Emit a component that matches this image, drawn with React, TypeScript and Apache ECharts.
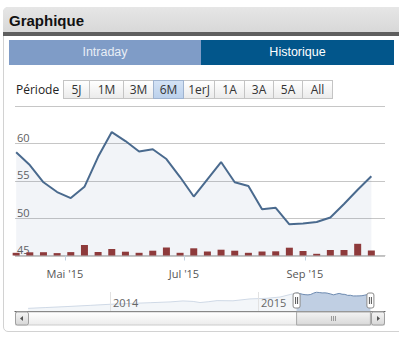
import React, { useEffect, useRef } from "react";
import * as echarts from "echarts";

// ---- Data ----
const weekDates = [
  "2015-04-06", "2015-04-13", "2015-04-20", "2015-04-27", "2015-05-04", "2015-05-11",
  "2015-05-18", "2015-05-25", "2015-06-01", "2015-06-08", "2015-06-15", "2015-06-22",
  "2015-06-29", "2015-07-06", "2015-07-13", "2015-07-20", "2015-07-27", "2015-08-03",
  "2015-08-10", "2015-08-17", "2015-08-24", "2015-08-31", "2015-09-07", "2015-09-14",
  "2015-09-21", "2015-09-28", "2015-10-05",
];
const closePrices = [
  58.8, 57.1, 54.8, 53.5, 52.7, 54.2, 58.2, 61.5, 60.3, 58.9, 59.2, 57.9, 55.5, 52.9,
  55.2, 57.5, 54.8, 54.3, 51.2, 51.4, 49.2, 49.3, 49.5, 50.1, 51.9, 53.8, 55.6,
];
const volumes = [
  27, 32, 33, 24, 34, 105, 35, 65, 38, 27, 48, 80, 27, 72, 40, 58, 48, 27, 40, 42, 78, 45,
  17, 55, 55, 117, 50,
];
// navigator history before the selected window
const navDates = [
  "2013-06-13", "2013-07-25", "2013-09-17", "2013-11-13", "2014-01-01", "2014-02-19",
  "2014-04-10", "2014-05-29", "2014-06-30", "2014-07-25", "2014-08-11", "2014-08-31",
  "2014-09-22", "2014-10-31", "2014-12-12", "2015-01-23", "2015-02-24", "2015-03-21",
];
const navValues = [
  10, 12.5, 15.7, 19.5, 23, 25.5, 28, 30.5, 33.6, 32, 28.5, 31, 34.6, 34, 40, 42, 46, 54,
];
const xTickDates = ["2015-05-01", "2015-07-01", "2015-09-01"];
const xTickLabels = ["Mai '15", "Jul '15", "Sep '15"];
const navTickDates = ["2014-01-01", "2015-01-01"];
const navTickLabels = ["2014", "2015"];
const priceTicks = [45, 50, 55, 60, 65];
const periods = ["5J", "1M", "3M", "6M", "1erJ", "1A", "3A", "5A", "All"];
const selectedPeriod = "6M";

const ts = (s: string) => new Date(s + "T00:00:00Z").getTime();
const DAY = 86400000;

const mainMin = ts("2015-04-05") + 10 * 3600000;
const mainMax = ts("2015-10-12");
const navMin = ts("2013-05-11") + 17 * 3600000;
const navMax = ts("2015-11-10");

const FONT = "'Open Sans', 'DejaVu Sans', sans-serif";

const btnPos: [number, number][] = [
  [63, 27], [89, 35], [123, 31], [153, 31], [183, 32], [214, 31], [244, 30], [273, 30], [302, 31],
];

export default function App() {
  const ref = useRef<HTMLDivElement>(null);

  useEffect(() => {
    document.body.style.margin = "0";
    if (!ref.current) return;
    const chart = echarts.init(ref.current, null, { renderer: "svg" });

    const priceData = weekDates.map((d, i) => [ts(d), closePrices[i]]);
    const volData = weekDates.map((d, i) => [ts(d), volumes[i]]);
    const navAll = navDates.map((d, i) => [ts(d), navValues[i]]).concat(priceData);
    const xTicks = xTickDates.map(ts);
    const navTicks = navTickDates.map(ts);

    chart.setOption({
      animation: false,
      grid: [
        { left: 15, right: 14, top: 105.8, bottom: 343 - 255.8 },
        { left: 15, right: 14, top: 215, bottom: 79 },
        { left: 15, right: 14, top: 292, bottom: 31.5 },
      ],
      xAxis: [
        { type: "value", gridIndex: 0, min: mainMin, max: mainMax, show: false, splitLine: { show: false } },
        {
          type: "value",
          gridIndex: 1,
          min: mainMin,
          max: mainMax,
          axisLine: { show: true, lineStyle: { color: "#c0c0c0", width: 1 } },
          axisTick: { show: true, customValues: xTicks, length: 5, lineStyle: { color: "#c0d0e0" } },
          axisLabel: {
            customValues: xTicks,
            margin: 4,
            color: "#555",
            fontSize: 11,
            fontFamily: FONT,
            formatter: (v: number) => {
              const i = xTicks.findIndex((t) => Math.abs(t - v) < DAY);
              return i >= 0 ? xTickLabels[i] : "";
            },
          },
          splitLine: { show: false },
        },
        {
          type: "value",
          gridIndex: 2,
          position: "top",
          z: 10,
          min: navMin,
          max: navMax,
          axisLine: { show: true, lineStyle: { color: "#444", width: 1 } },
          axisTick: { show: false, customValues: navTicks },
          axisLabel: {
            customValues: navTicks,
            inside: true,
            align: "left",
            margin: 5,
            padding: [0, 0, 0, 3],
            color: "#666",
            fontSize: 11,
            fontFamily: FONT,
            formatter: (v: number) => {
              const i = navTicks.findIndex((t) => Math.abs(t - v) < DAY);
              return i >= 0 ? navTickLabels[i] : "";
            },
          },
          splitLine: { show: true, lineStyle: { color: "#e2e2e2" } },
        },
      ],
      yAxis: [
        {
          type: "value",
          gridIndex: 0,
          min: priceTicks[0],
          max: priceTicks[priceTicks.length - 1],
          interval: 5,
          axisLine: { show: false },
          axisTick: { show: false },
          axisLabel: {
            inside: true,
            showMaxLabel: false,
            verticalAlign: "bottom",
            lineHeight: 12,
            margin: 2,
            color: "#606060",
            fontSize: 11,
            fontFamily: FONT,
          },
          splitLine: { show: true, lineStyle: { color: "#c6c6c6" } },
        },
        { type: "value", gridIndex: 1, min: -85, max: 405, show: false, splitLine: { show: false } },
        { type: "value", gridIndex: 2, min: 0, max: 62, show: false, splitLine: { show: false } },
      ],
      series: [
        {
          type: "line",
          name: "Cours",
          xAxisIndex: 0,
          yAxisIndex: 0,
          data: priceData,
          symbol: "none",
          lineStyle: { color: "#4a6a8e", width: 2 },
          areaStyle: { color: "rgba(64,100,160,0.1)", origin: "start" },
          z: 3,
        },
        {
          type: "bar",
          name: "Volume",
          xAxisIndex: 1,
          yAxisIndex: 1,
          data: volData,
          barWidth: 7,
          itemStyle: { color: "#8e3a3b" },
          z: 4,
        },
        {
          type: "line",
          xAxisIndex: 2,
          yAxisIndex: 2,
          data: navAll,
          symbol: "none",
          lineStyle: { color: "#cfd9e6", width: 1 },
          areaStyle: { color: "#eef2f7", origin: "start" },
        },
        {
          type: "line",
          xAxisIndex: 2,
          yAxisIndex: 2,
          data: priceData,
          symbol: "none",
          lineStyle: { color: "#6f8cb2", width: 1 },
          areaStyle: { color: "#aabfda", origin: "start" },
        },
      ],
    });

    const hx1 = chart.convertToPixel({ xAxisIndex: 2 }, ts(weekDates[0])) as number;
    const hx2 = chart.convertToPixel({ xAxisIndex: 2 }, ts(weekDates[weekDates.length - 1])) as number;
    const grad = (a: string, b: string) =>
      new echarts.graphic.LinearGradient(0, 0, 0, 1, [
        { offset: 0, color: a },
        { offset: 1, color: b },
      ]);
    const handle = (x: number) => [
      { type: "rect", z: 100, shape: { x: x - 3.5, y: 293, width: 7, height: 15, r: 2 }, style: { fill: "#fff", stroke: "#8a8a8a", lineWidth: 1 } },
      { type: "line", z: 101, shape: { x1: x - 1, y1: 297, x2: x - 1, y2: 304 }, style: { stroke: "#555", lineWidth: 1 } },
      { type: "line", z: 101, shape: { x1: x + 1, y1: 297, x2: x + 1, y2: 304 }, style: { stroke: "#555", lineWidth: 1 } },
    ];
    const cx = (hx1 + hx2) / 2;
    chart.setOption({
      graphic: [
        { type: "rect", z: 90, shape: { x: 15.5, y: 312, width: 369, height: 13 }, style: { fill: grad("#ffffff", "#ececec"), stroke: "#cccccc", lineWidth: 1 } },
        { type: "rect", z: 91, shape: { x: hx1, y: 312, width: hx2 - hx1, height: 13 }, style: { fill: grad("#f4f4f4", "#d8d8d8"), stroke: "#a8a8a8", lineWidth: 1 } },
        { type: "line", z: 92, shape: { x1: cx - 2, y1: 316, x2: cx - 2, y2: 321 }, style: { stroke: "#999", lineWidth: 1 } },
        { type: "line", z: 92, shape: { x1: cx, y1: 316, x2: cx, y2: 321 }, style: { stroke: "#999", lineWidth: 1 } },
        { type: "line", z: 92, shape: { x1: cx + 2, y1: 316, x2: cx + 2, y2: 321 }, style: { stroke: "#999", lineWidth: 1 } },
        { type: "rect", z: 93, shape: { x: 15.5, y: 312, width: 13, height: 13, r: 2 }, style: { fill: grad("#f6f6f6", "#d6d6d6"), stroke: "#a0a0a0", lineWidth: 1 } },
        { type: "polygon", z: 94, shape: { points: [[20, 318.5], [23, 316], [23, 321]] }, style: { fill: "#555" } },
        { type: "rect", z: 93, shape: { x: 371.5, y: 312, width: 13, height: 13, r: 2 }, style: { fill: grad("#f6f6f6", "#d6d6d6"), stroke: "#a0a0a0", lineWidth: 1 } },
        { type: "polygon", z: 94, shape: { points: [[380, 318.5], [377, 316], [377, 321]] }, style: { fill: "#555" } },
        ...handle(hx1),
        ...handle(hx2),
      ],
    });

    return () => chart.dispose();
  }, []);

  return (
    <div style={{ position: "relative", width: 399, height: 343, overflow: "hidden", background: "#fff", fontFamily: FONT }}>
      <div style={{ position: "absolute", left: 3, top: 7, width: 420, height: 325, border: "1px solid #d2d2d2", borderRadius: 5, boxSizing: "border-box" }} />
      <div
        style={{
          position: "absolute", left: 3, top: 7, width: 420, height: 25,
          background: "linear-gradient(#e6e6e6, #d8d8d8)", borderTopLeftRadius: 5,
          borderBottom: "4px solid #5e5e5e",
          fontFamily: "'Liberation Sans', Arial, sans-serif", fontWeight: "bold", fontSize: 15,
          lineHeight: "27px", paddingLeft: 6, color: "#111", boxSizing: "content-box",
        }}
      >
        Graphique
      </div>
      <div style={{ position: "absolute", left: 9, top: 40, width: 192, height: 25, background: "#7f9cc7", color: "#e8eef6", fontFamily: "'Liberation Sans', Arial, sans-serif", fontSize: 12.5, lineHeight: "25px", textAlign: "center" }}>
        Intraday
      </div>
      <div style={{ position: "absolute", left: 201, top: 40, width: 193, height: 25, background: "#02568b", color: "#ffffff", fontFamily: "'Liberation Sans', Arial, sans-serif", fontSize: 12.5, lineHeight: "25px", textAlign: "center" }}>
        Historique
      </div>
      <div style={{ position: "absolute", left: 16, top: 80, height: 19, lineHeight: "19px", fontSize: 12, color: "#222" }}>Période</div>
      {periods.map((p, i) => {
        const sel = p === selectedPeriod;
        return (
          <div
            key={p}
            style={{
              position: "absolute", left: btnPos[i][0], top: 80, width: btnPos[i][1], height: 19,
              boxSizing: "border-box", border: sel ? "1px solid #9fb3cf" : "1px solid #c4c4c4",
              background: sel ? "linear-gradient(#d3e2f5, #bcd1ec)" : "linear-gradient(#ffffff, #ebebeb)",
              fontSize: 12, lineHeight: "17px", textAlign: "center", color: "#333",
              zIndex: sel ? 2 : 1,
            }}
          >
            {p}
          </div>
        );
      })}
      <div ref={ref} style={{ position: "absolute", left: 0, top: 0, width: 399, height: 343, zIndex: 5 }} />
    </div>
  );
}
